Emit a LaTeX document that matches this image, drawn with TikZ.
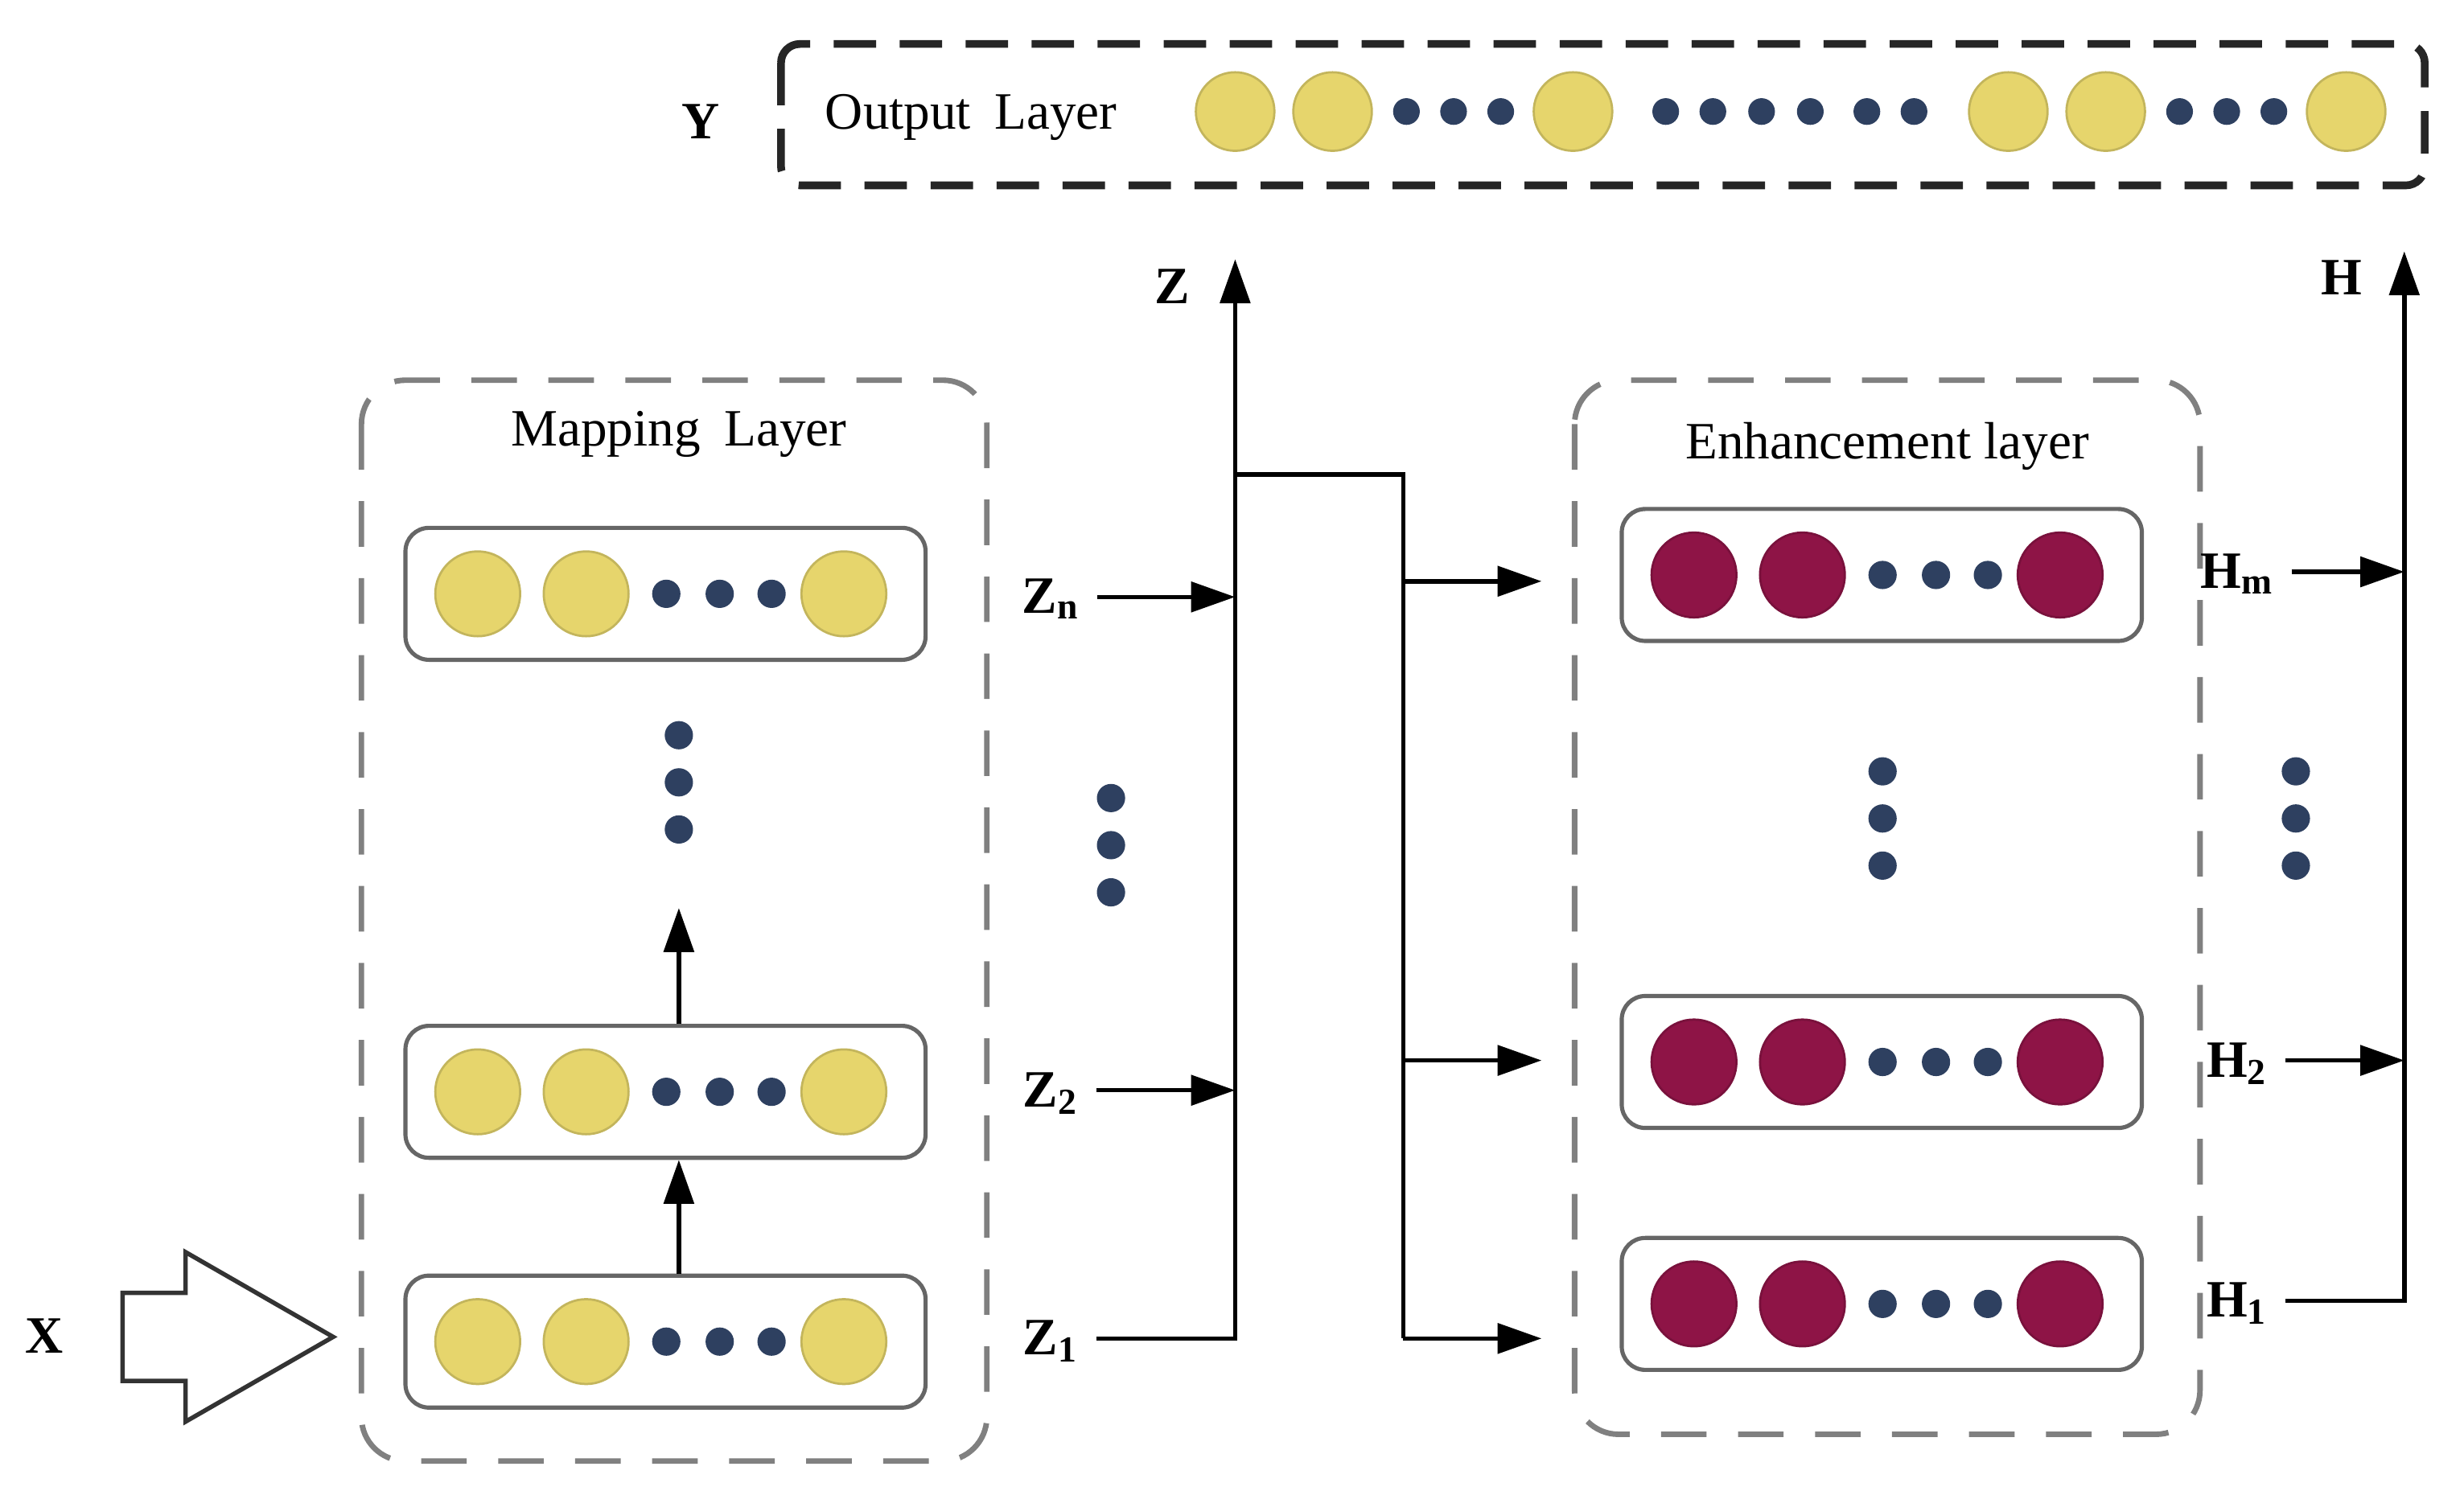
\documentclass[tikz,border=0pt]{standalone}
\usepackage{fontspec}
\setmainfont{Liberation Serif}
\usetikzlibrary{arrows.meta}
\definecolor{unityellow}{RGB}{230,213,108}
\definecolor{unitred}{RGB}{142,20,70}
\definecolor{dotblue}{RGB}{46,64,96}
\newcommand\sublbl[2]{\textbf{#1}\textsubscript{\textbf{#2}}}
\tikzset{
  unit/.style={circle,inner sep=0pt,minimum size=5.4mm,line width=0.4pt},
  dot/.style={circle,fill=dotblue,inner sep=0pt,minimum size=1.8mm},
  rowbox/.style={draw=black!60,line width=0.75pt,rounded corners=1.5mm,minimum width=33.1mm,minimum height=8.4mm},
  layerbox/.style={draw=black!50,line width=1pt,rounded corners=2.8mm,dash pattern=on 2.9mm off 2mm},
  lbl/.style={font=\fontsize{9.5}{11}\selectfont\bfseries,inner sep=1mm,text height=2.1mm,text depth=0pt},
  title/.style={font=\fontsize{9.5}{11}\selectfont,inner sep=0pt,anchor=base},
  arr/.style={line width=0.8pt,-{Triangle[length=2.8mm,width=1.9mm]}},
  bigarrow/.style={draw=black!80,line width=0.8pt,fill=white}
}
\begin{document}
\begin{tikzpicture}[x=0.1mm,y=-0.1mm]
\useasboundingbox (0,0) rectangle (1568,949);
\draw[draw=black!85,line width=1.4pt,rounded corners=1.2mm,dash pattern=on 2.7mm off 1.5mm] (497,28) rectangle (1543,118);
\node (outtitle) at (618,82)[title]{Output\hspace{0.45em}Layer};
\node (ylbl) at (446,78)[lbl]{Y};
\foreach \ox in {786,848,1001,1278,1340,1493}
{
\node (out-\ox) at (\ox,71)[unit,minimum size=5mm,fill=unityellow,draw=unityellow!85!black]{};
}
\foreach \ox in {895,925,955,1060,1090,1121,1152,1188,1218,1387,1417,1447}
{
\node (odot-\ox) at (\ox,71)[dot,minimum size=1.7mm]{};
}
\draw[layerbox] (230,242) rectangle (628,930);
\draw[layerbox] (1002,242) rectangle (1400,913);
\node (maptitle) at (432,284)[title]{Mapping\hspace{0.45em}Layer};
\node (enhtitle) at (1201,292)[title]{Enhancement layer};
\foreach \r/\rx/\ry/\c in {map1/258/854/unityellow,map2/258/695/unityellow,mapn/258/378/unityellow,enh1/1032/830/unitred,enh2/1032/676/unitred,enhm/1032/366/unitred}
{
\node (\r) at (\rx+165.5, \ry)[rowbox]{};
\foreach \dx in {46,115,279}
{
\node (\r-\dx) at (\rx+\dx, \ry)[unit,fill=\c,draw=\c!85!black]{};
}
\foreach \dx in {166,200,233}
{
\node (\r-\dx) at (\rx+\dx, \ry)[dot]{};
}
}
\foreach \vx/\vy in {432/468,707/508,1198/491,1461/491}
{
\foreach \k in {0,1,2}
{
\node (vd-\vx-\k) at (\vx, \vy+\k*30)[dot]{};
}
}
\coordinate (mapup) at (432,578);
\draw[arr] (map1.north -| mapup) -- (map2.south -| mapup);
\draw[arr] (map2.north -| mapup) -- (mapup);
\draw[bigarrow] (78,823) -- (118,823) -- (118,797) -- (212,851) -- (118,905) -- (118,879) -- (78,879) -- cycle;
\node (xlbl) at (28,851)[lbl]{X};
\node (zn) at (669,380)[lbl]{\sublbl{Z}{n}};
\node (z2) at (669,694)[lbl]{\sublbl{Z}{2}};
\node (z1) at (669,852)[lbl]{\sublbl{Z}{1}};
\coordinate (ztop) at (786,165);
\node (zlbl) at (746,183)[lbl]{Z};
\draw[arr] (zn.east) -- (zn.east -| ztop);
\draw[arr] (z2.east) -- (z2.east -| ztop);
\draw[arr] (z1.east) -| (ztop);
\coordinate (split) at (893,302);
\coordinate (inm) at (981,370);
\coordinate (in2) at (981,675);
\coordinate (in1) at (981,852);
\draw[line width=0.8pt] (ztop |- split) -- (split) -- (split |- in1);
\draw[arr] (split |- inm) -- (inm);
\draw[arr] (split |- in2) -- (in2);
\draw[arr] (split |- in1) -- (in1);
\node (hm) at (1424,364)[lbl]{\sublbl{H}{m}};
\node (h2) at (1424,675)[lbl]{\sublbl{H}{2}};
\node (h1) at (1424,828)[lbl]{\sublbl{H}{1}};
\coordinate (htop) at (1530,160);
\node (hlbl) at (1490,177)[lbl]{H};
\draw[arr] (hm.east) -- (hm.east -| htop);
\draw[arr] (h2.east) -- (h2.east -| htop);
\draw[arr] (h1.east) -| (htop);
\end{tikzpicture}
\end{document}
